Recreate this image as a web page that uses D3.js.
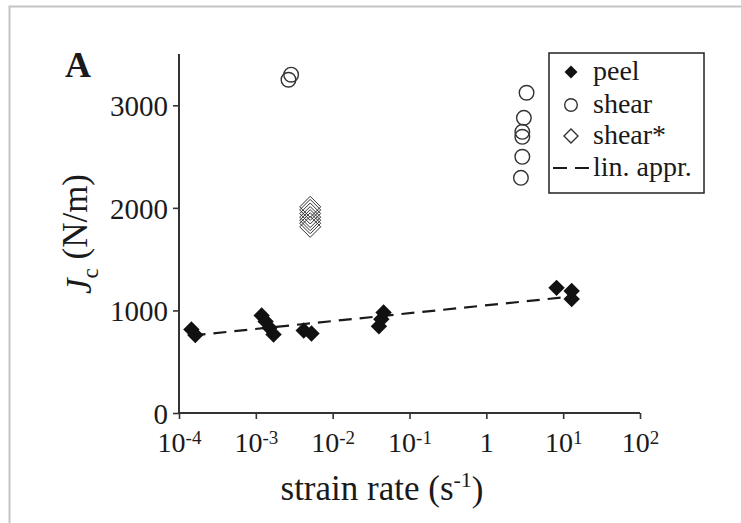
<!DOCTYPE html>
<html>
<head>
<meta charset="utf-8">
<script src="https://cdn.jsdelivr.net/npm/d3@7"></script>
<style>
  html, body { margin: 0; padding: 0; background: #fff; }
  svg { display: block; font-family: "Liberation Serif", "DejaVu Serif", serif; }
</style>
</head>
<body>
<svg id="chart" width="741" height="523"></svg>
<script>
// Fracture energy vs. strain rate
const peelRate = [1.45e-4, 1.63e-4, 1.19e-3, 1.34e-3, 1.51e-3, 1.70e-3, 4.2e-3, 5.3e-3, 0.046, 0.043, 0.040, 8.2, 12.9, 12.9];
const peelJc   = [815, 760, 950, 893, 830, 766, 805, 775, 980, 915, 845, 1220, 1190, 1112];

const shearRate = [2.66e-3, 2.88e-3, 3.34, 3.08, 2.94, 2.94, 2.94, 2.82];
const shearJc   = [3249, 3298, 3122, 2878, 2741, 2693, 2498, 2293];

const shearStarRate = [5.1e-3, 5.1e-3, 5.1e-3, 5.1e-3, 5.1e-3, 5.1e-3, 5.1e-3];
const shearStarJc   = [2010, 1980, 1945, 1910, 1880, 1850, 1815];

const linRate = [1.5e-4, 11];
const linJc   = [756, 1130];

const xTicks = [1e-4, 1e-3, 1e-2, 1e-1, 1, 10, 100];
const yTicks = [0, 1000, 2000, 3000];
const legendLabels = ["peel", "shear", "shear*", "lin. appr."];

const svg = d3.select("#chart");
const ink = "#1a1a1a";

// page frame
svg.append("rect")
  .attr("x", 9.5).attr("y", 6.5).attr("width", 800).attr("height", 600)
  .attr("fill", "none").attr("stroke", "#c4c4c4").attr("stroke-width", 2);

const x = d3.scaleLog().domain([1e-4, 1e2]).range([179, 640]);
const y = d3.scaleLinear().domain([0, 3500]).range([413, 54]);

// square rotated 45 degrees
const diamond = {
  draw(ctx, size) {
    const r = Math.sqrt(size / 2);
    ctx.moveTo(0, -r); ctx.lineTo(r, 0); ctx.lineTo(0, r); ctx.lineTo(-r, 0); ctx.closePath();
  }
};
const diamondPath = r => d3.symbol().type(diamond).size(2 * r * r)();

// axes
const xAxis = svg.append("g").attr("transform", "translate(0,413)")
  .call(d3.axisBottom(x).tickValues(xTicks).tickSize(6).tickSizeOuter(0));
const yAxis = svg.append("g").attr("transform", "translate(179,0)")
  .call(d3.axisLeft(y).tickValues(yTicks).tickSize(6).tickSizeOuter(0).tickFormat(d3.format("d")));

[xAxis, yAxis].forEach(g => {
  g.select(".domain").attr("stroke", "#333").attr("stroke-width", 2);
  g.selectAll(".tick line").attr("stroke", "#333").attr("stroke-width", 1.6);
  g.selectAll(".tick text").attr("fill", ink).attr("font-family", "Liberation Serif");
});
yAxis.select(".domain").attr("d", `M0,${y(0)}V${y(3500)}`);
xAxis.select(".domain").attr("d", `M${x(1e-4)},0H${x(1e2)}`);

yAxis.selectAll(".tick text").attr("font-size", 29).attr("x", -11).attr("dy", "0.36em");

xAxis.selectAll(".tick text").each(function (d) {
  const t = d3.select(this);
  const e = Math.round(Math.log10(d));
  t.text(null).attr("font-size", 28).attr("y", 39).attr("dy", null);
  if (e === 0) {
    t.text("1");
  } else {
    t.append("tspan").text("10");
    t.append("tspan").attr("dy", "-0.42em").attr("font-size", 19).text(String(e));
  }
});

// linear approximation
svg.append("path")
  .attr("d", d3.line().x(d => x(d[0])).y(d => y(d[1]))(d3.zip(linRate, linJc)))
  .attr("fill", "none").attr("stroke", ink).attr("stroke-width", 2.2)
  .attr("stroke-dasharray", "13,8");

// shear* (open diamonds)
svg.append("g").selectAll("path").data(d3.zip(shearStarRate, shearStarJc)).join("path")
  .attr("d", diamondPath(10.5))
  .attr("transform", d => `translate(${x(d[0])},${y(d[1])})`)
  .attr("fill", "none").attr("stroke", "#333").attr("stroke-width", 1);

// shear (open circles)
svg.append("g").selectAll("circle").data(d3.zip(shearRate, shearJc)).join("circle")
  .attr("cx", d => x(d[0])).attr("cy", d => y(d[1])).attr("r", 7.3)
  .attr("fill", "none").attr("stroke", "#333").attr("stroke-width", 1.4);

// peel (filled diamonds)
svg.append("g").selectAll("path").data(d3.zip(peelRate, peelJc)).join("path")
  .attr("d", diamondPath(8.2))
  .attr("transform", d => `translate(${x(d[0])},${y(d[1])})`)
  .attr("fill", "#111");

// panel letter
svg.append("text").attr("x", 65).attr("y", 77)
  .attr("font-size", 36).attr("font-weight", "bold").attr("fill", ink).text("A");

// axis titles
const yt = svg.append("text")
  .attr("transform", "translate(91,234) rotate(-90)")
  .attr("text-anchor", "middle").attr("font-size", 35).attr("fill", ink);
yt.append("tspan").attr("font-style", "italic").text("J");
yt.append("tspan").attr("font-size", 23).attr("dy", "0.3em").text("c");
yt.append("tspan").attr("dy", "-0.3em").text(" (N/m)");

const xt = svg.append("text")
  .attr("x", 382).attr("y", 500)
  .attr("text-anchor", "middle").attr("font-size", 35).attr("fill", ink);
xt.append("tspan").text("strain rate (s");
xt.append("tspan").attr("font-size", 22).attr("dy", "-0.6em").text("-1");
xt.append("tspan").attr("dy", "0.4em").text(")");

// legend
const lg = svg.append("g");
lg.append("rect").attr("x", 549).attr("y", 53).attr("width", 155).attr("height", 140)
  .attr("fill", "#fff").attr("stroke", "#222").attr("stroke-width", 1.5);
const rowY = [72, 105, 136, 168];
lg.append("path").attr("d", diamondPath(6.5)).attr("transform", `translate(571,${rowY[0]})`).attr("fill", "#111");
lg.append("circle").attr("cx", 571).attr("cy", rowY[1]).attr("r", 6.3)
  .attr("fill", "none").attr("stroke", "#333").attr("stroke-width", 1.4);
lg.append("path").attr("d", diamondPath(7)).attr("transform", `translate(571,${rowY[2]})`)
  .attr("fill", "none").attr("stroke", "#333").attr("stroke-width", 1.4);
lg.append("line").attr("x1", 553).attr("x2", 589).attr("y1", rowY[3]).attr("y2", rowY[3])
  .attr("stroke", ink).attr("stroke-width", 2.2).attr("stroke-dasharray", "14,8");
lg.selectAll("text.lab").data(legendLabels).join("text").attr("class", "lab")
  .attr("x", 593).attr("y", (d, i) => rowY[i]).attr("dy", "0.3em")
  .attr("font-size", 28).attr("fill", ink).text(d => d);
</script>
</body>
</html>
